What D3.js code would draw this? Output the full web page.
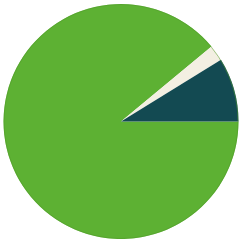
<!DOCTYPE html>
<meta charset="utf-8">
<script src="https://cdn.jsdelivr.net/npm/d3@7"></script>
<style>
  body { margin: 0; background: #fff; }
</style>
<div id="js_chart"></div>
<script>
// slices, clockwise from 3 o'clock
const categories = ["green", "white", "dark"];
const values = [89, 2.2, 8.8];
const colors = ["#5db133", "#f3efe2", "#134a52"];

const width = 244, height = 245;
const cx = 121, cy = 121.5, radius = 117.5;

const svg = d3.select("#js_chart")
    .append("svg")
    .attr("width", width)
    .attr("height", height)
    .append("g")
    .attr("transform", "translate(" + cx + "," + cy + ")");

const pie = d3.pie()
    .sort(null)
    .value(function (d, i) { return values[i]; })
    .startAngle(Math.PI / 2)
    .endAngle(Math.PI / 2 + 2 * Math.PI);

const arc = d3.arc().innerRadius(0).outerRadius(radius);

svg.selectAll("path")
    .data(pie(categories))
    .enter()
    .append("path")
    .attr("d", arc)
    .attr("fill", function (d, i) { return colors[i]; });

// faint darker rim
svg.append("circle")
    .attr("r", radius - 0.5)
    .attr("fill", "none")
    .attr("stroke", "#4f9a2a")
    .attr("stroke-opacity", 0.5)
    .attr("stroke-width", 1);
</script>
